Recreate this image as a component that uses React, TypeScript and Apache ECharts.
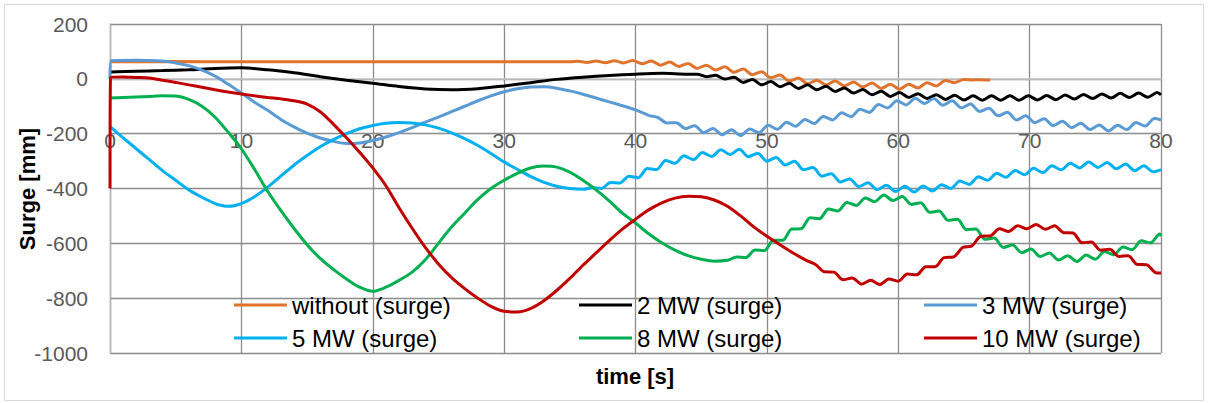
import React, { useEffect, useRef } from "react";
import * as echarts from "echarts";

// ---------- data (time [s], surge [mm]) ----------
const seriesNames = [
  "without (surge)",
  "2 MW (surge)",
  "3 MW (surge)",
  "5 MW (surge)",
  "8 MW (surge)",
  "10 MW (surge)",
];
const seriesColors = ["#E0742F", "#000000", "#5B9BD5", "#00B0F0", "#00B050", "#C00000"];

const xTicks = { min: 0, max: 80, interval: 10 };
const yTicks = { min: -1000, max: 200, interval: 200 };

// ripple sections are sampled every half period (0.7 s)
const rippleStep = 0.7;

// without (surge)
const withoutHead: number[][] = [[0, 62], [5, 63], [10, 62], [20, 62], [30, 62], [35, 62]];
const withoutRippleStart = 35.6;
const withoutRipple = [64, 60, 65, 59, 66, 58, 67, 55, 65, 50, 61, 45, 56, 38, 50, 32, 44, 24, 36, 15, 26, 4, 14, -8, 3, -18, -5, -22, -8, -26, -12, -30, -15, -35, -20, -38, -20, -33, -14, -26, -6, -14, -2];
const withoutTail: number[][] = [[65.7, -4], [66, -3], [67, -4]];

// 2 MW
const mw2Head: number[][] = [[0, 25], [2, 28], [4, 30], [6, 33], [8, 38], [10, 40], [12, 33], [14, 22], [16, 8], [18, -5], [20, -16], [22, -28], [24, -37], [26, -40], [28, -36], [30, -26], [32, -14], [34, -2], [36, 6], [38, 12], [40, 17], [42, 20], [44, 17]];
const mw2RippleStart = 44.7;
const mw2Ripple = [17, 8, 13, -1, 6, -13, -2, -22, -10, -29, -16, -35, -22, -40, -27, -46, -33, -52, -39, -58, -45, -64, -50, -68, -54, -72, -58, -75, -60, -77, -62, -78, -62, -78, -62, -78, -62, -77, -61, -76, -59, -74, -57, -72, -55, -70, -53, -68, -52, -67, -50];
const mw2Tail: number[][] = [[80, -58]];

// 3 MW
const mw3Head: number[][] = [[0, 0], [0.1, 66], [2, 68], [4, 65], [5, 58], [6, 48], [7, 32], [8, 10], [9, -20], [10, -52], [11, -85], [12, -115], [13, -148], [14, -175], [15, -198], [16, -216], [17, -228], [18, -236], [19, -234], [20, -225], [21, -212], [22, -196], [23, -178], [24, -158], [25, -140], [26, -120], [27, -100], [28, -80], [29, -62], [30, -47], [31, -36], [32, -30], [33, -29], [34, -34], [35, -44], [36, -56], [37, -70], [38, -84], [39, -98], [40, -113], [41, -133]];
const mw3RippleStart = 41.7;
const mw3Ripple = [-141, -161, -160, -181, -171, -196, -181, -204, -186, -207, -183, -196, -169, -184, -158, -173, -148, -163, -137, -150, -124, -138, -111, -122, -94, -106, -80, -95, -71, -90, -72, -96, -80, -106, -92, -119, -107, -135, -122, -150, -135, -160, -146, -171, -155, -178, -162, -185, -168, -190, -169, -185, -159, -172, -145];
const mw3Tail: number[][] = [[80, -150]];

// 5 MW
const mw5Head: number[][] = [[0, -174], [1, -215], [2, -255], [3, -295], [4, -335], [5, -370], [6, -405], [7, -432], [8, -455], [8.6, -463], [9, -465], [10, -455], [11, -430], [12, -395], [13, -355], [14, -315], [15, -280], [16, -248], [17, -222], [18, -200], [19, -182], [20, -170], [21, -162], [22, -159], [23, -161], [24, -168], [25, -180], [26, -197], [27, -218], [28, -243], [29, -272], [30, -303], [31, -330], [32, -356], [33, -377], [34, -392], [35, -400], [36, -403]];
const mw5RippleStart = 36.7;
const mw5Ripple = [-397, -400, -378, -380, -355, -361, -327, -331, -298, -308, -281, -295, -269, -283, -259, -276, -257, -284, -271, -300, -287, -314, -301, -332, -323, -355, -346, -376, -365, -393, -379, -404, -388, -411, -392, -413, -391, -409, -386, -400, -373, -385, -357, -370, -344, -359, -334, -350, -326, -342, -317, -332, -308, -325, -303, -323, -305, -328, -311, -335, -317, -339];
const mw5Tail: number[][] = [[80, -331]];

// 8 MW
const mw8Head: number[][] = [[0, -70], [1, -68], [2, -66], [3, -64], [4, -62], [5, -63], [6, -75], [7, -100], [8, -140], [9, -195], [10, -255], [11, -330], [12, -410], [13, -480], [14, -545], [15, -605], [16, -655], [17, -695], [18, -730], [19, -760], [20, -775], [21, -760], [22, -735], [23, -705], [24, -660], [25, -600], [26, -540], [27, -490], [28, -440], [29, -400], [30, -370], [31, -345], [32, -325], [33, -318], [34, -322], [35, -340], [36, -370], [37, -405], [38, -445], [39, -490], [40, -526], [41, -565], [42, -598], [43, -625], [44, -645], [45, -658], [46, -665], [47, -662]];
const mw8RippleStart = 47.7;
const mw8Ripple = [-650, -652, -624, -627, -589, -589, -548, -547, -507, -510, -475, -482, -451, -462, -435, -448, -424, -444, -429, -458, -452, -487, -482, -516, -512, -550, -548, -585, -581, -615, -606, -634, -621, -648, -635, -661, -645, -666, -643, -658, -630, -642, -613, -623, -591, -598, -566];
const mw8Tail: number[][] = [[80, -574]];

// 10 MW
const mw10Head: number[][] = [[0, -400], [0.05, 6], [1, 7], [2, 5], [3, 3], [4, -5], [5, -13], [6, -22], [7, -31], [8, -40], [9, -48], [10, -55], [11, -62], [12, -68], [13, -73], [14, -80], [15, -92], [16, -120], [17, -165], [18, -215], [19, -268], [20, -325], [21, -390], [22, -470], [23, -545], [24, -615], [25, -675], [26, -725], [27, -765], [28, -800], [29, -830], [30, -848], [31, -850], [32, -838], [33, -810], [34, -772], [35, -728], [36, -680], [37, -635], [38, -590], [39, -548], [40, -512], [41, -478], [42, -452], [43, -435], [44, -428], [45, -430], [46, -442], [47, -465], [48, -500], [49, -540], [50, -574], [51, -605], [52, -635], [53, -662]];
const mw10RippleStart = 53.7;
const mw10Ripple = [-677, -704, -705, -733, -726, -749, -735, -750, -730, -738, -712, -715, -685, -685, -652, -650, -615, -610, -574, -573, -547, -557, -536, -547, -531, -549, -536, -561, -562, -598, -595, -625, -622, -648, -645, -677, -678, -707];
const mw10Tail: number[][] = [[80, -708]];

function build(head: number[][], start: number, ripple: number[], tail: number[][]) {
  const mid = ripple.map((v, i) => [Math.round((start + i * rippleStep) * 100) / 100, v]);
  return [...head, ...mid, ...tail];
}

const seriesData = [
  build(withoutHead, withoutRippleStart, withoutRipple, withoutTail),
  build(mw2Head, mw2RippleStart, mw2Ripple, mw2Tail),
  build(mw3Head, mw3RippleStart, mw3Ripple, mw3Tail),
  build(mw5Head, mw5RippleStart, mw5Ripple, mw5Tail),
  build(mw8Head, mw8RippleStart, mw8Ripple, mw8Tail),
  build(mw10Head, mw10RippleStart, mw10Ripple, mw10Tail),
];

const FONT = "'Liberation Sans', Arial, sans-serif";

// plot box
const GRID = { left: 110, top: 24, width: 1051, height: 329 };

export default function App() {
  const ref = useRef<HTMLDivElement>(null);

  useEffect(() => {
    document.body.style.margin = "0";
    if (!ref.current) return;
    const chart = echarts.init(ref.current, undefined, { renderer: "svg" });

    // x axis sits on y = 0: move it up from the bottom of the grid
    const zeroOffset = -(GRID.height * (0 - yTicks.min)) / (yTicks.max - yTicks.min);

    const legendCommon = {
      orient: "vertical" as const,
      top: 293,
      padding: 0,
      icon: "rect",
      itemWidth: 53,
      itemHeight: 3,
      itemGap: 9,
      textStyle: { fontSize: 24, color: "#000", fontFamily: FONT, lineHeight: 24 },
    };

    chart.setOption({
      animation: false,
      textStyle: { fontFamily: FONT },
      grid: { ...GRID, containLabel: false },
      xAxis: {
        type: "value",
        position: "bottom",
        offset: zeroOffset,
        min: xTicks.min,
        max: xTicks.max,
        interval: xTicks.interval,
        axisLine: { show: true, onZero: false, lineStyle: { color: "#c8c8c8", width: 1.5 } },
        axisTick: { show: false },
        axisLabel: {
          color: "#595959",
          fontSize: 21,
          margin: 51,
          verticalAlign: "top",
          fontFamily: FONT,
        },
        splitLine: { show: true, lineStyle: { color: "#8c8c8c", width: 1.3 } },
      },
      yAxis: {
        type: "value",
        min: yTicks.min,
        max: yTicks.max,
        interval: yTicks.interval,
        axisLine: { show: true, onZero: false, lineStyle: { color: "#b0b0b0", width: 1.3 } },
        axisTick: { show: false },
        axisLabel: {
          color: "#595959",
          fontSize: 21,
          margin: 22,
          fontFamily: FONT,
          formatter: (v: number) => String(v),
        },
        splitLine: { show: true, lineStyle: { color: "#8c8c8c", width: 1.3 } },
      },
      legend: [
        { ...legendCommon, left: 234, data: [seriesNames[0], seriesNames[3]] },
        { ...legendCommon, left: 579, data: [seriesNames[1], seriesNames[4]] },
        { ...legendCommon, left: 924, data: [seriesNames[2], seriesNames[5]] },
      ],
      series: seriesNames.map((name, i) => ({
        name,
        type: "line",
        data: seriesData[i],
        showSymbol: false,
        symbol: "none",
        smooth: 0.3,
        color: seriesColors[i],
        lineStyle: { color: seriesColors[i], width: 3 },
      })),
      graphic: [
        {
          type: "rect",
          shape: { x: 4.5, y: 4.5, width: 1199, height: 396 },
          style: { fill: "none", stroke: "#d9d9d9", lineWidth: 1 },
          silent: true,
        },
        {
          type: "text",
          x: 27,
          y: 189,
          rotation: Math.PI / 2,
          style: {
            text: "Surge [mm]",
            font: `bold 22px ${FONT}`,
            fill: "#000",
            textAlign: "center",
            textVerticalAlign: "middle",
          },
        },
        {
          type: "text",
          x: 635,
          y: 376,
          style: {
            text: "time [s]",
            font: `bold 22px ${FONT}`,
            fill: "#000",
            textAlign: "center",
            textVerticalAlign: "middle",
          },
        },
      ],
    });

    return () => chart.dispose();
  }, []);

  return <div ref={ref} style={{ width: 1208, height: 403 }} />;
}
